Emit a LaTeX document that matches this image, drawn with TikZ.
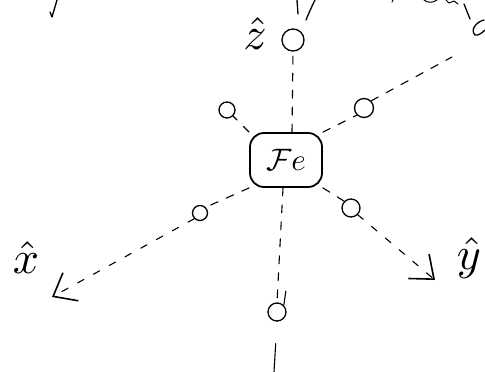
\documentclass[tikz,border=0pt]{standalone}
\usetikzlibrary{arrows.meta}
\begin{document}
\begin{tikzpicture}[x=1pt,y=-1pt,
  ink/.style={line width=1.3pt,line cap=round,line join=round},
  site/.style={circle,draw,line width=1.3pt,inner sep=0pt},
  bond/.style={line width=1.1pt,dash pattern=on 8pt off 9pt,line cap=round},
  axis/.style={line width=1.1pt,dash pattern=on 7pt off 11pt,line cap=round,
    -{Straight Barb[length=20pt,width=32pt,line width=1.6pt]}},
  lbl/.style={scale=4.6,inner sep=0pt}]
\useasboundingbox (0,0) rectangle (485,372);
% centre
\node[draw,line width=1.8pt,rounded corners=14pt,minimum width=72pt,minimum height=54pt] (fe) at (286,160) {};
\node[scale=3.1] (fet) at (fe) {$\mathcal{F}e$};
% ligand sites
\node[site,minimum size=22pt] (zt) at (293,40) {};
\node[site,minimum size=18pt] (zb) at (277,312) {};
\node[site,minimum size=16pt] (ul) at (227,110) {};
\node[site,minimum size=19pt] (ur) at (364,108) {};
\node[site,minimum size=15pt] (ll) at (200,213) {};
\node[site,minimum size=18pt] (lr) at (351,208) {};
% free ends
\coordinate (zend) at (274,372);
\coordinate (urend) at (452,57);
\coordinate (xtip) at (52,297);
\coordinate (ytip) at (435,280);
% bonds
\draw[bond] (fe.north) ++(6,0) -- (zt.south);
\draw[bond] (fe.south) ++(-3,0) -- (zb.north);
\draw[ink,line width=1.1pt] (zb.north east) -- ++(2,-14);
\draw[ink,line width=1.1pt,dash pattern=on 0pt off 22pt on 28pt] (zb.south) -- (zend);
\draw[bond] (fe.north west) -- (ul.south east);
\draw[bond] (fe.north east) -- (ur.south west);
\draw[bond] (ur.north east) -- (urend);
\draw[bond] (fe.south west) -- (ll.north east);
\draw[bond] (fe.south east) -- (lr.north west);
% axes
\draw[axis] (ll.south west) -- (xtip);
\draw[axis] (lr.south east) -- (ytip);
% labels
\node[lbl] (zl) at (255,34) {$\hat{z}$};
\node[lbl] (xl) at (26,258) {$\hat{x}$};
\node[lbl] (yl) at (469,258) {$\hat{y}$};
% cut-off handwriting at the top
\draw[ink] (57,0) -- (52,17) -- (50,12);
\draw[ink] (297,0) -- (298,14);
\draw[ink] (315,0) .. controls (311,8) and (308,15) .. (306,20);
\draw[ink,line width=1pt] (393,0) -- (392,2);
\draw[ink,line width=1pt] (424,0) .. controls (427,3) and (433,3) .. (437,0);
\draw[ink,line width=1pt] (446,0) -- (449,3) -- (454,1) -- (458,4);
\draw[ink] (464,4) -- (470,19);
\draw[ink] (484,20) .. controls (476,22) and (470,30) .. (475,35) .. controls (478,36) and (482,33) .. (485,30);
\end{tikzpicture}
\end{document}
